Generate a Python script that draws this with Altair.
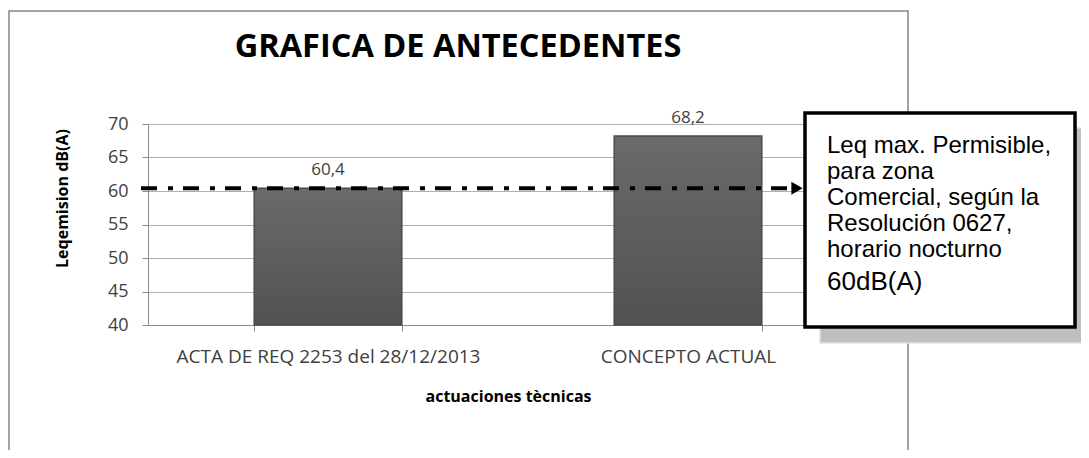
import altair as alt
import pandas as pd

# ---- data ----
categories = ["ACTA DE REQ 2253 del 28/12/2013", "CONCEPTO ACTUAL"]
values = [60.4, 68.2]
limit_value = [60.4]
y_ticks = [40, 45, 50, 55, 60, 65, 70]
chart_title = "GRAFICA DE ANTECEDENTES"
x_title = "actuaciones tècnicas"
y_title = "Leqemision dB(A)"
note_lines = [
    "Leq max. Permisible,",
    "para zona",
    "Comercial, según la",
    "Resolución 0627,",
    "horario nocturno",
]
note_last = "60dB(A)"

df = pd.DataFrame({"cat": categories, "val": values})
df_lim = pd.DataFrame({"val": limit_value})
df_one = pd.DataFrame({"a": [0]})

FONT = "Open Sans"
GRAY_TXT = "#404040"

x_enc = alt.X(
    "cat:N",
    sort=categories,
    scale=alt.Scale(paddingInner=0.59, paddingOuter=0.295),
    axis=alt.Axis(
        title=x_title,
        titleFont=FONT,
        titleFontWeight="bold",
        titleFontSize=16,
        titleColor="black",
        titlePadding=22,
        labelFont=FONT,
        labelFontSize=19,
        labelColor=GRAY_TXT,
        labelAngle=0,
        labelPadding=16,
        labelLimit=0,
        labelOverlap=False,
        tickBand="extent",
        tickSize=6,
        tickColor="#8c8c8c",
        domainColor="#8c8c8c",
        grid=False,
    ),
)
y_axis = alt.Axis(
    title=y_title,
    titleFont=FONT,
    titleFontWeight="bold",
    titleFontSize=16,
    titleColor="black",
    titleAngle=270,
    titleX=-86,
    titleY=74,
    titleAlign="center",
    titleBaseline="middle",
    values=y_ticks,
    labelFont=FONT,
    labelFontSize=18,
    labelColor=GRAY_TXT,
    labelPadding=14,
    labelOverlap=False,
    labelFlush=False,
    tickSize=6,
    tickColor="#8c8c8c",
    domainColor="#8c8c8c",
    grid=True,
    gridColor="#b0b0b0",
)
y_scale = alt.Scale(domain=[40, 70], nice=False, zero=False)
y_enc = alt.Y("val:Q", scale=y_scale, axis=y_axis)

bar_fill = alt.Gradient(
    gradient="linear",
    x1=0, x2=0, y1=0, y2=1,
    stops=[
        alt.GradientStop(color="#6a6a6a", offset=0),
        alt.GradientStop(color="#525252", offset=1),
    ],
)

bars = alt.Chart(df).mark_bar(fill=bar_fill, stroke="#4a4a4a", strokeWidth=1.5).encode(
    x=x_enc, y=y_enc, y2=alt.datum(40)
)

labels = (
    alt.Chart(df)
    .transform_calculate(lbl="replace(format(datum.val, '.1f'), '.', ',')")
    .mark_text(baseline="bottom", dy=-9, font=FONT, fontSize=17, color=GRAY_TXT)
    .encode(x=x_enc, y=y_enc, text="lbl:N")
)

limit_line = alt.Chart(df_lim).mark_rule(
    color="black", strokeWidth=4, strokeDash=[16, 11, 5, 10]
).encode(y=y_enc, x=alt.value(-7), x2=alt.value(646))

arrow = alt.Chart(df_lim).mark_point(
    shape="triangle-right", filled=True, size=170, color="black", opacity=1
).encode(y=y_enc, x=alt.value(649))

border = alt.Chart(df_one).mark_rect(
    fill="transparent", stroke="#868686", strokeWidth=1.5
).encode(x=alt.value(-139), x2=alt.value(760), y=alt.value(-113), y2=alt.value(400))

shadow = alt.Chart(df_one).mark_rect(
    fill="#bfbfbf", stroke="#e4e4e4", strokeWidth=1.5
).encode(x=alt.value(672), x2=alt.value(950), y=alt.value(4), y2=alt.value(219))

box = alt.Chart(df_one).mark_rect(
    fill="white", stroke="black", strokeWidth=3.5
).encode(x=alt.value(657), x2=alt.value(927), y=alt.value(-11), y2=alt.value(203))

note = alt.Chart(df_one).mark_text(
    align="left", baseline="alphabetic", font="Liberation Sans", fontSize=24,
    lineHeight=26, color="black"
).encode(x=alt.value(679), y=alt.value(29), text=alt.value(note_lines))

note2 = alt.Chart(df_one).mark_text(
    align="left", baseline="alphabetic", font="Liberation Sans", fontSize=26,
    color="black"
).encode(x=alt.value(679), y=alt.value(166), text=alt.value(note_last))

title = alt.Chart(df_one).mark_text(
    align="center", baseline="middle", font=FONT, fontWeight="bold", fontSize=32.5,
    color="black"
).encode(x=alt.value(310), y=alt.value(-77), text=alt.value(chart_title))

chart = (
    alt.layer(bars, labels, limit_line, arrow, border, shadow, box, note, note2, title)
    .properties(
        width=720,
        height=201,
        autosize=alt.AutoSizeParams(type="none"),
        padding={"left": 140, "top": 116, "right": 213, "bottom": 125},
        background="white",
    )
    .configure_view(stroke=None)
)

chart.save("out.html", embed_options={"renderer": "svg", "actions": False})
